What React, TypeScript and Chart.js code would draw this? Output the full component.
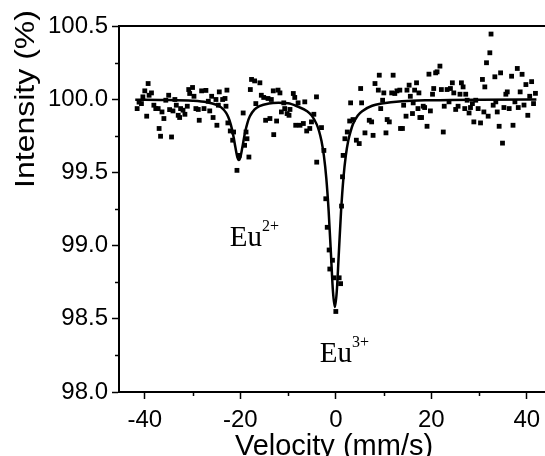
import { useEffect, useRef } from 'react';
import { Chart, registerables } from 'chart.js';

Chart.register(...registerables);

// Measured points: velocity (mm/s) and relative intensity (%)
const velocity = [
  -41.6, -41.2, -40.7, -40.4, -40.0, -39.6, -39.3, -39.1, -38.6, -38.1, -37.7, -37.2, -37.0, -36.7, -36.4, -36.0,
  -35.6, -35.0, -34.8, -34.4, -34.1, -33.7, -33.4, -33.0, -32.7, -32.5, -32.0, -31.6, -31.1, -30.8, -30.6, -30.0,
  -29.7, -29.3, -28.8, -28.6, -28.1, -27.6, -27.2, -26.7, -26.4, -26.0, -25.7, -25.1, -24.9, -24.6, -24.4,
  -23.7, -23.2, -23.0, -22.8, -22.6, -22.1, -21.6, -21.4, -20.7, -20.25, -19.4, -19.1, -18.8, -18.6, -18.2,
  -17.9, -17.65, -17.0, -16.75, -15.9, -15.6, -15.1, -14.7, -14.2, -13.8, -13.5, -13.1, -13.0, -12.4, -12.1,
  -11.7, -11.4, -10.9, -10.7, -10.2, -9.8, -9.6, -8.9, -8.6, -8.4, -7.9, -7.5, -6.8, -6.5, -6.1, -5.45, -5.1,
  -4.6, -4.05, -4.0, -3.0, -2.5, -2.1, -1.8, -1.4, -1.26, -0.7, -0.4, 0.0, 0.7, 1.0, 1.2, 1.4, 1.53, 1.9,
  2.4, 2.9, 3.1, 3.6, 4.3, 4.9, 5.2, 5.4, 6.1, 7.0, 7.5, 7.8, 8.2, 8.9, 9.1, 9.4, 9.8, 10.05, 10.5, 10.75,
  11.2, 11.7, 12.0, 12.35, 12.8, 13.4, 13.55, 13.95, 14.2, 14.7, 14.9, 15.35, 15.6, 16.05, 16.2, 16.5, 16.9,
  17.2, 17.4, 17.6, 17.95, 18.3, 18.6, 19.1, 19.5, 19.8, 20.25, 20.5, 20.9, 21.2, 21.8, 22.1, 22.5, 22.7,
  23.3, 23.7, 24.0, 24.4, 24.7, 25.1, 25.6, 26.0, 26.3, 26.65, 27.0, 27.2, 27.5, 27.9, 28.2, 28.6, 28.9,
  29.3, 29.8, 30.3, 30.7, 31.0, 31.2, 31.55, 31.9, 32.25, 32.5, 32.95, 33.3, 33.5, 33.8, 34.2, 34.5, 34.9,
  35.2, 35.6, 35.9, 36.3, 36.8, 37.1, 37.5, 38.0, 38.2, 38.6, 39.0, 39.4, 39.8, 40.2, 40.6, 41.0, 41.4, 41.8,
];

const intensity = [
  99.936, 99.98, 99.97, 100.016, 100.057, 99.884, 100.107, 100.027, 100.043, 99.959, 99.936, 99.936, 99.80, 99.747, 99.913, 99.868,
  99.993, 100.027, 99.929, 99.742, 99.92, 99.998, 99.959, 99.89, 99.875, 99.936, 99.925, 99.897, 99.952, 100.066, 100.039, 100.08,
  100.02, 99.936, 99.93, 99.856, 100.057, 99.936, 100.06, 99.986, 99.92, 100.02, 99.875, 99.998, 99.822, 99.959, 100.05,
  99.998, 100.005, 99.952, 100.062, 99.838, 99.783, 99.72, 99.776, 99.514, 99.616, 99.906, 99.685, 99.776, 99.73, 99.605,
  100.066, 100.135, 100.125, 99.97, 100.112, 100.027, 100.012, 99.856, 100.005, 99.868, 99.998, 100.057, 99.758, 99.851, 100.062,
  100.043, 99.913, 99.975, 99.936, 99.902, 99.89, 99.93, 100.039, 100.012, 99.822, 99.975, 99.822, 99.834, 99.982, 99.783, 99.80, 99.845,
  99.897, 100.016, 99.57, 99.806, 99.65, 99.32, 99.125, 98.97, 98.84, 98.90, 98.78, 98.55, 98.78, 98.74, 99.27, 99.47, 99.616, 99.73,
  99.776, 99.851, 99.975, 99.861, 99.72, 99.697, 100.073, 99.975, 99.77, 99.856, 99.845, 99.753, 100.107, 100.062, 100.164, 99.936, 99.993, 100.043, 99.77, 99.861,
  99.845, 100.043, 100.164, 100.039, 100.057, 100.062, 99.80, 99.80, 99.959, 99.884, 100.062, 100.096, 100.02, 99.902, 99.975, 100.062, 100.112,
  99.936, 100.043, 99.875, 99.875, 99.952, 99.943, 99.815, 100.171, 99.92, 100.034, 100.073, 100.18, 100.187, 100.226, 100.066, 99.776, 99.952,
  100.066, 99.982, 100.073, 100.112, 100.043, 99.93, 99.952, 100.034, 100.112, 100.084, 99.936, 100.034, 99.993, 99.906, 99.943, 99.97, 99.845,
  99.993, 99.936, 99.838, 100.135, 99.913, 100.084, 100.249, 99.884, 100.317, 100.445, 99.959, 100.153, 99.982, 99.913, 99.815, 100.18, 99.70,
  99.943, 100.034, 100.05, 99.936, 100.157, 99.822, 99.982, 100.21, 99.943, 100.05, 100.17, 99.96, 100.10, 99.89, 100.02, 100.12, 99.97, 100.04,
];

// Fitted curve
const fitVelocity = [
  -42, -36, -30, -27, -25, -24, -23, -22.5, -22, -21.5, -21, -20.6, -20.3, -20, -19.6, -19, -18.5, -18, -17, -16,
  -14, -12, -10, -8, -6, -5, -4, -3.5, -3, -2.5, -2, -1.5, -1, -0.6, -0.2, 0.2, 0.6, 1.1, 1.6, 2.1, 2.6, 3.1,
  3.6, 4.6, 5.6, 7.6, 9.6, 13.8, 20, 30, 42,
];
const fitIntensity = [
  99.997, 99.995, 99.989, 99.979, 99.962, 99.944, 99.908, 99.877, 99.828, 99.758, 99.666, 99.602, 99.584, 99.602, 99.666, 99.774, 99.839, 99.883, 99.93, 99.953,
  99.971, 99.975, 99.972, 99.95, 99.918, 99.886, 99.828, 99.781, 99.714, 99.614, 99.463, 99.236, 98.93, 98.687, 98.58, 98.687, 98.93, 99.237, 99.465, 99.616, 99.716, 99.78,
  99.83, 99.889, 99.92, 99.955, 99.97, 99.986, 99.993, 99.997, 99.998,
];

const xTicks = [-40, -20, 0, 20, 40];
const xMinorTicks = [-30, -10, 10, 30];
const yTicks = [98.0, 98.5, 99.0, 99.5, 100.0, 100.5];
const yMinorTicks = [98.25, 98.75, 99.25, 99.75, 100.25];

const xTitle = 'Velocity (mm/s)';
const yTitle = 'Intensity (%)';

const SANS = '"Liberation Sans", Arial, sans-serif';
const SERIF = '"Liberation Serif", "Times New Roman", serif';

const decorPlugin = {
  id: 'decor',
  afterDraw(chart: any) {
    const { ctx, chartArea, scales } = chart;
    const xs = scales.x;
    const ys = scales.y;
    ctx.save();
    ctx.strokeStyle = '#000';
    ctx.lineWidth = 2;
    ctx.beginPath();
    ctx.moveTo(chartArea.left - 1, chartArea.top);
    ctx.lineTo(chart.width, chartArea.top);
    ctx.stroke();

    ctx.lineWidth = 1.5;
    xMinorTicks.forEach((v) => {
      const px = Math.round(xs.getPixelForValue(v)) + 0.5;
      ctx.beginPath();
      ctx.moveTo(px, chartArea.bottom);
      ctx.lineTo(px, chartArea.bottom + 4);
      ctx.stroke();
    });
    yMinorTicks.forEach((v) => {
      const py = Math.round(ys.getPixelForValue(v)) + 0.5;
      ctx.beginPath();
      ctx.moveTo(chartArea.left, py);
      ctx.lineTo(chartArea.left - 4, py);
      ctx.stroke();
    });

    ctx.fillStyle = '#000';
    ctx.textBaseline = 'alphabetic';
    ctx.textAlign = 'center';
    ctx.font = `29px ${SANS}`;
    ctx.fillText(xTitle, 334, 455);

    ctx.save();
    ctx.translate(34, 99);
    ctx.rotate(-Math.PI / 2);
    ctx.scale(1, 0.88);
    ctx.font = `32px ${SANS}`;
    ctx.fillText(yTitle, 0, 0);
    ctx.restore();

    const drawEu = (v: number, i: number, sup: string) => {
      const px = xs.getPixelForValue(v);
      const py = ys.getPixelForValue(i);
      ctx.textAlign = 'left';
      ctx.font = `29px ${SERIF}`;
      ctx.fillText('Eu', px, py);
      const w = ctx.measureText('Eu').width;
      ctx.font = `16px ${SERIF}`;
      ctx.fillText(sup, px + w, py - 15);
    };
    drawEu(-22.2, 99.0, '2+');
    drawEu(-3.35, 98.205, '3+');
    ctx.restore();
  },
};

export default function App() {
  const ref = useRef<HTMLCanvasElement | null>(null);

  useEffect(() => {
    if (!ref.current) return;
    const points = velocity.map((v, k) => ({ x: v, y: intensity[k] }));
    const fit = fitVelocity.map((v, k) => ({ x: v, y: fitIntensity[k] }));
    const chart = new Chart(ref.current, {
      type: 'scatter',
      data: {
        datasets: [
          {
            label: 'data',
            data: points,
            pointStyle: 'rect',
            pointRadius: 3.4,
            borderWidth: 0,
            backgroundColor: '#000',
            showLine: false,
          },
          {
            label: 'fit',
            data: fit,
            showLine: true,
            pointRadius: 0,
            borderColor: '#000',
            borderWidth: 2.5,
            cubicInterpolationMode: 'monotone',
            fill: false,
          },
        ],
      },
      options: {
        animation: false,
        responsive: false,
        devicePixelRatio: 1,
        layout: { autoPadding: false, padding: { top: 26, right: 0, left: 0, bottom: 0 } },
        plugins: { legend: { display: false }, tooltip: { enabled: false }, title: { display: false } },
        scales: {
          x: {
            type: 'linear',
            position: 'bottom',
            min: -45.4,
            max: 43.8,
            afterBuildTicks: (scale: any) => {
              scale.ticks = xTicks.map((v) => ({ value: v }));
            },
            afterFit: (scale: any) => {
              scale.height = 64;
              scale.paddingLeft = 0;
              scale.paddingRight = 0;
            },
            ticks: {
              autoSkip: false,
              maxRotation: 0,
              padding: 7,
              color: '#000',
              font: { family: SANS, size: 24 },
            },
            grid: {
              drawOnChartArea: false,
              drawTicks: true,
              tickLength: 7,
              tickWidth: 1.5,
              tickColor: '#000',
            },
            border: { display: true, color: '#000', width: 2 },
          },
          y: {
            type: 'linear',
            position: 'left',
            min: 98,
            max: 100.5,
            afterBuildTicks: (scale: any) => {
              scale.ticks = yTicks.map((v) => ({ value: v }));
            },
            afterFit: (scale: any) => {
              scale.width = 119;
            },
            ticks: {
              autoSkip: false,
              padding: 4,
              color: '#000',
              font: { family: SANS, size: 24 },
              callback: (v: any) => Number(v).toFixed(1),
            },
            grid: {
              drawOnChartArea: false,
              drawTicks: true,
              tickLength: 7,
              tickWidth: 1.5,
              tickColor: '#000',
            },
            border: { display: true, color: '#000', width: 2 },
          },
        },
      },
      plugins: [decorPlugin],
    });
    return () => chart.destroy();
  }, []);

  return (
    <div style={{ position: 'absolute', left: 0, top: 0, width: 545, height: 456, background: '#fff' }}>
      <canvas ref={ref} width={545} height={456} style={{ display: 'block' }} />
    </div>
  );
}
